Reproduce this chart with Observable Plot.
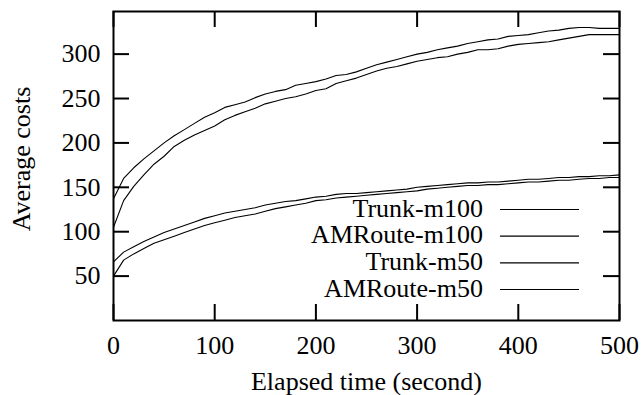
<!DOCTYPE html>
<html>
<head>
<meta charset="utf-8">
<script src="https://cdn.jsdelivr.net/npm/d3@7"></script>
<script src="https://cdn.jsdelivr.net/npm/@observablehq/plot@0.6"></script>
<style>
  html, body { margin: 0; padding: 0; background: #fff; }
</style>
</head>
<body>
<div id="chart"></div>
<script>
// ---- data ----
const time = [0,10,20,30,40,50,60,70,80,90,100,110,120,130,140,150,160,170,180,190,200,
  210,220,230,240,250,260,270,280,290,300,310,320,330,340,350,360,370,380,390,400,
  410,420,430,440,450,460,470,480,490,500];

const amrouteM100 = [137,160,172,182,191,200,208,215,222,229,234,240,243,246,251,255,258,260,265,267,269,
  272,276,277,280,284,288,291,294,297,300,302,305,307,309,312,314,316,317,320,321,
  322,324,326,327,329,330,330,329,329,329];

const trunkM100 = [105,135,151,164,176,185,196,203,209,214,219,226,231,235,239,244,247,250,252,255,259,
  261,267,270,273,277,281,284,286,289,292,294,296,297,300,302,305,305,306,309,311,
  312,313,314,316,318,320,322,322,322,322];

const amrouteM50 = [66,77,83,89,94,99,103,107,111,115,118,121,123,125,127,130,132,134,135,137,139,
  140,142,143,143,144,145,146,147,148,150,151,152,153,154,155,155,156,156,157,158,
  159,159,160,161,161,162,162,163,163,164];

const trunkM50 = [50,68,75,81,87,91,95,99,103,107,110,113,116,118,120,123,126,128,130,132,135,
  136,138,139,140,141,142,143,144,145,146,148,149,150,151,152,152,153,153,154,155,
  156,156,157,158,158,159,160,160,161,161];

const seriesNames = ["Trunk-m100", "AMRoute-m100", "Trunk-m50", "AMRoute-m50"];
const seriesValues = [trunkM100, amrouteM100, trunkM50, amrouteM50];

const xTicks = [0, 100, 200, 300, 400, 500];
const yTicks = [50, 100, 150, 200, 250, 300];
const xLabel = "Elapsed time (second)";
const yLabel = "Average costs";

// ---- table for the library ----
const table = [];
seriesNames.forEach((name, i) => {
  seriesValues[i].forEach((v, j) => table.push({series: name, time: time[j], value: v}));
});

const FONT = "'Liberation Serif', 'Times New Roman', serif";

const plot = Plot.plot({
  width: 642,
  height: 395,
  marginLeft: 113,
  marginRight: 23,
  marginTop: 11,
  marginBottom: 75,
  style: {fontFamily: FONT, fontSize: "26px", background: "#fff", color: "#000", overflow: "visible"},
  x: {domain: [0, 500], ticks: xTicks},
  y: {domain: [0, 348], ticks: yTicks},
  marks: [
    Plot.lineY(table, {x: "time", y: "value", z: "series", stroke: "#000", strokeWidth: 1.1}),
    // inward ticks on all four sides (gnuplot mirror ticks)
    Plot.tickX(xTicks, {x: d => d, insetTop: 293, stroke: "#000", strokeWidth: 2}),
    Plot.tickX(xTicks, {x: d => d, insetBottom: 293, stroke: "#000", strokeWidth: 2}),
    Plot.tickY(yTicks, {y: d => d, insetRight: 490, stroke: "#000", strokeWidth: 2}),
    Plot.tickY(yTicks, {y: d => d, insetLeft: 490, stroke: "#000", strokeWidth: 2}),
    Plot.frame({stroke: "#000", strokeWidth: 2}),
    Plot.axisX({ticks: xTicks, tickSize: 0, tickPadding: 15, label: null, fontSize: 26, fontFamily: FONT, fill: "#000"}),
    Plot.axisY({ticks: yTicks, tickSize: 0, tickPadding: 13, label: null, fontSize: 26, fontFamily: FONT, fill: "#000"}),
    Plot.text([xLabel], {frameAnchor: "bottom", dy: 61, fontSize: 26, fontFamily: FONT, fill: "#000", textAnchor: "middle", lineAnchor: "middle"}),
    Plot.text([yLabel], {frameAnchor: "left", rotate: -90, dx: -92, dy: -7, fontSize: 26, fontFamily: FONT, fill: "#000", textAnchor: "middle", lineAnchor: "middle"})
  ]
});

// ---- key (gnuplot style: right-aligned titles followed by line samples) ----
const svg = d3.select(plot);
const key = svg.append("g").style("font-family", FONT).attr("font-size", 26).attr("fill", "#000");
seriesNames.forEach((name, i) => {
  key.append("text")
    .attr("x", 483).attr("y", 216.7 + i * 26.67)
    .attr("text-anchor", "end")
    .text(name);
  key.append("line")
    .attr("x1", 500).attr("x2", 579)
    .attr("y1", 209.5 + i * 26.67).attr("y2", 209.5 + i * 26.67)
    .attr("stroke", "#000").attr("stroke-width", 1.2);
});

document.getElementById("chart").appendChild(plot);
</script>
</body>
</html>
